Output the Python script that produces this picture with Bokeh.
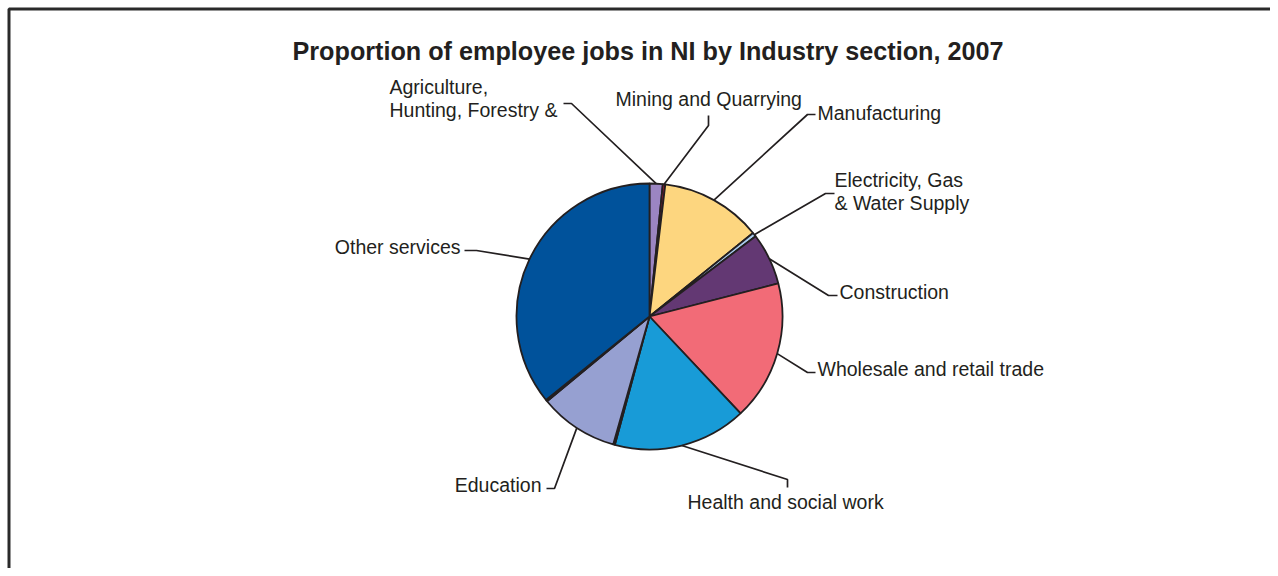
import math
from bokeh.plotting import figure
from bokeh.models import Range1d
from bokeh.embed import file_html
from bokeh.resources import INLINE
from bokeh.core.properties import value

# ---------------- data ----------------
title_text = "Proportion of employee jobs in NI by Industry section, 2007"
sections = [
    "Agriculture, Hunting, Forestry &",
    "Mining and Quarrying",
    "Manufacturing",
    "Electricity, Gas & Water Supply",
    "Construction",
    "Wholesale and retail trade",
    "Health and social work",
    "Unlabelled section A",
    "Education",
    "Unlabelled section B",
    "Other services",
]
shares = [1.6, 0.3, 12.3, 0.5, 6.3, 17.0, 16.2, 0.2, 9.6, 0.2, 35.8]
label_lines = [
    ["Agriculture,", "Hunting, Forestry &"],
    ["Mining and Quarrying"],
    ["Manufacturing"],
    ["Electricity, Gas", "& Water Supply"],
    ["Construction"],
    ["Wholesale and retail trade"],
    ["Health and social work"],
    [],
    ["Education"],
    [],
    ["Other services"],
]
colors = ["#9b85c2", "#c0143c", "#fdd67f", "#a9cbee", "#633873", "#f26b77",
          "#189bd7", "#555555", "#96a0d1", "#cfcfcf", "#00529b"]

# ---------------- layout (image pixel coordinates) ----------------
W, H = 1270, 568
def Y(img_y):
    return H - img_y

CX, CY, R = 649, 316, 133
INK = "#231f20"
FONT = "Liberation Sans"
LINE_H = 23
TXT_DY = -8     # baseline correction for labels
TITLE_DY = -9

label_layout = {
    0: dict(elbow=(571, 103), tick=(563, 103), text=(389, 94), align="left"),
    1: dict(elbow=(708, 125), tick=(708, 115), text=(615, 106), align="left"),
    2: dict(elbow=(807, 114), tick=(815, 114), text=(817, 120), align="left"),
    3: dict(elbow=(825, 193), tick=(834, 193), text=(834, 187), align="left"),
    4: dict(elbow=(828, 295), tick=(837, 295), text=(839, 299), align="left"),
    5: dict(elbow=(807, 372), tick=(815, 372), text=(817, 376), align="left"),
    6: dict(elbow=(787, 479), tick=(787, 487), text=(687, 509), align="left"),
    8: dict(elbow=(554, 488), tick=(546, 488), text=(541, 492), align="right"),
    10: dict(elbow=(476, 250), tick=(464, 250), text=(460, 254), align="right"),
}

p = figure(width=W, height=H, output_backend="svg", toolbar_location=None,
           x_range=Range1d(0, W), y_range=Range1d(0, H),
           min_border=0, tools="")
p.axis.visible = False
p.grid.visible = False
p.outline_line_color = None
p.background_fill_color = "white"
p.border_fill_color = "white"

# frame border (left and top visible)
p.line([8.5, 8.5, W], [Y(H), Y(8.5), Y(8.5)], line_color="#2a2a2a", line_width=3)

# wedges
total = sum(shares)
starts, ends, mids = [], [], []
cum = 0.0
for s in shares:
    a0 = math.pi / 2 - 2 * math.pi * cum / total
    cum += s
    a1 = math.pi / 2 - 2 * math.pi * cum / total
    starts.append(a0)
    ends.append(a1)
    mids.append((a0 + a1) / 2)

p.wedge(x=[CX] * len(shares), y=[Y(CY)] * len(shares), radius=R,
        start_angle=starts, end_angle=ends, direction="clock",
        fill_color=colors, line_color=INK, line_width=1.8)

# leaders and labels
xs, ys = [], []
tx, ty, tt, ta = [], [], [], []
for i, lines in enumerate(label_lines):
    if not lines:
        continue
    lay = label_layout[i]
    ex = CX + R * math.cos(mids[i])
    ey = Y(CY) + R * math.sin(mids[i])
    xs.append([ex, lay["elbow"][0], lay["tick"][0]])
    ys.append([ey, Y(lay["elbow"][1]), Y(lay["tick"][1])])
    for k, ln in enumerate(lines):
        tx.append(lay["text"][0])
        ty.append(Y(lay["text"][1] + k * LINE_H + TXT_DY))
        tt.append(ln)
        ta.append(lay["align"])

p.multi_line(xs, ys, line_color=INK, line_width=1.7)

for al in ("left", "right"):
    idx = [j for j in range(len(tt)) if ta[j] == al]
    p.text(x=[tx[j] for j in idx], y=[ty[j] for j in idx], text=[tt[j] for j in idx],
           text_font=value(FONT), text_font_size="19.5px", text_color=INK,
           text_align=al, text_baseline="alphabetic")

# title
p.text(x=[647.5], y=[Y(59 + TITLE_DY)], text=[title_text], text_font=value(FONT),
       text_font_size="25.2px", text_font_style="bold", text_color=INK,
       text_align="center", text_baseline="alphabetic")

open("out.html", "w").write(file_html(p, INLINE))
